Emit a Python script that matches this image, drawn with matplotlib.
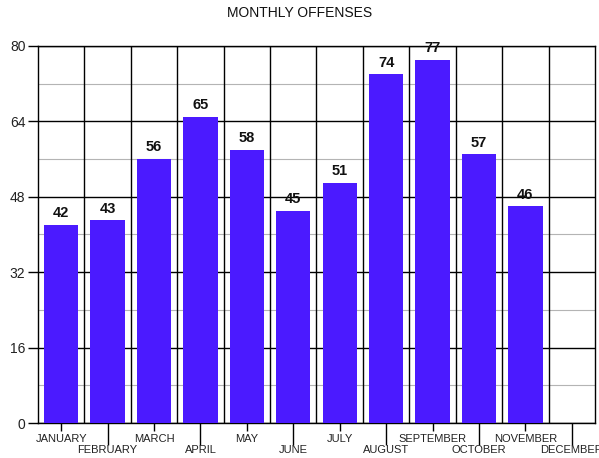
import matplotlib
matplotlib.use("Agg")
import matplotlib.pyplot as plt
from matplotlib.ticker import FixedLocator, FixedFormatter, MultipleLocator

plt.rcParams['font.family'] = ['Liberation Sans', 'DejaVu Sans']

months = ["JANUARY", "FEBRUARY", "MARCH", "APRIL", "MAY", "JUNE", "JULY",
          "AUGUST", "SEPTEMBER", "OCTOBER", "NOVEMBER", "DECEMBER"]
values = [42, 43, 56, 65, 58, 45, 51, 74, 77, 57, 46]
title = "MONTHLY OFFENSES"
y_max = 80
y_step = 16

fig = plt.figure(figsize=(5.99, 4.58), dpi=100)
ax = fig.add_axes([0.0634, 0.0764, 0.9299, 0.8232])

x = list(range(len(values)))
bars = ax.bar(x, values, width=0.74, color="#4B1AFF", zorder=3)
for xi, v in zip(x, values):
    ax.text(xi, v + 1.0, str(v), ha="center", va="bottom",
            fontsize=10.5, fontweight="bold", color="#111111", zorder=4)

ax.set_xlim(-0.5, len(months) - 0.5)
ax.set_ylim(0, y_max)
ax.yaxis.set_major_locator(MultipleLocator(y_step))
ax.yaxis.set_minor_locator(MultipleLocator(y_step / 2))
ax.grid(axis="y", which="major", color="black", linewidth=1.0, zorder=1)
ax.grid(axis="y", which="minor", color="#b4b4b4", linewidth=0.8, zorder=1)
for b in range(len(months) - 1):
    ax.axvline(b + 0.5, color="black", linewidth=1.0, zorder=2)

even = list(range(0, len(months), 2))
odd = list(range(1, len(months), 2))
ax.xaxis.set_major_locator(FixedLocator(even))
ax.xaxis.set_major_formatter(FixedFormatter([months[i] for i in even]))
ax.xaxis.set_minor_locator(FixedLocator(odd))
ax.xaxis.set_minor_formatter(FixedFormatter([months[i] for i in odd]))
ax.tick_params(axis="x", which="major", length=6, width=1, pad=2,
               labelsize=8, labelcolor="#222222")
ax.tick_params(axis="x", which="minor", length=16, width=1, pad=0,
               labelsize=8, labelcolor="#222222")
ax.tick_params(axis="y", which="major", length=7, width=1, pad=2,
               labelsize=10, labelcolor="#222222")
ax.tick_params(axis="y", which="minor", length=0)
for s in ax.spines.values():
    s.set_color("black")
    s.set_linewidth(1.0)

fig.text(0.5, 1 - 13 / 458, title, ha="center", va="center", fontsize=10,
         color="#111111")

fig.savefig("out.png", dpi=100)
